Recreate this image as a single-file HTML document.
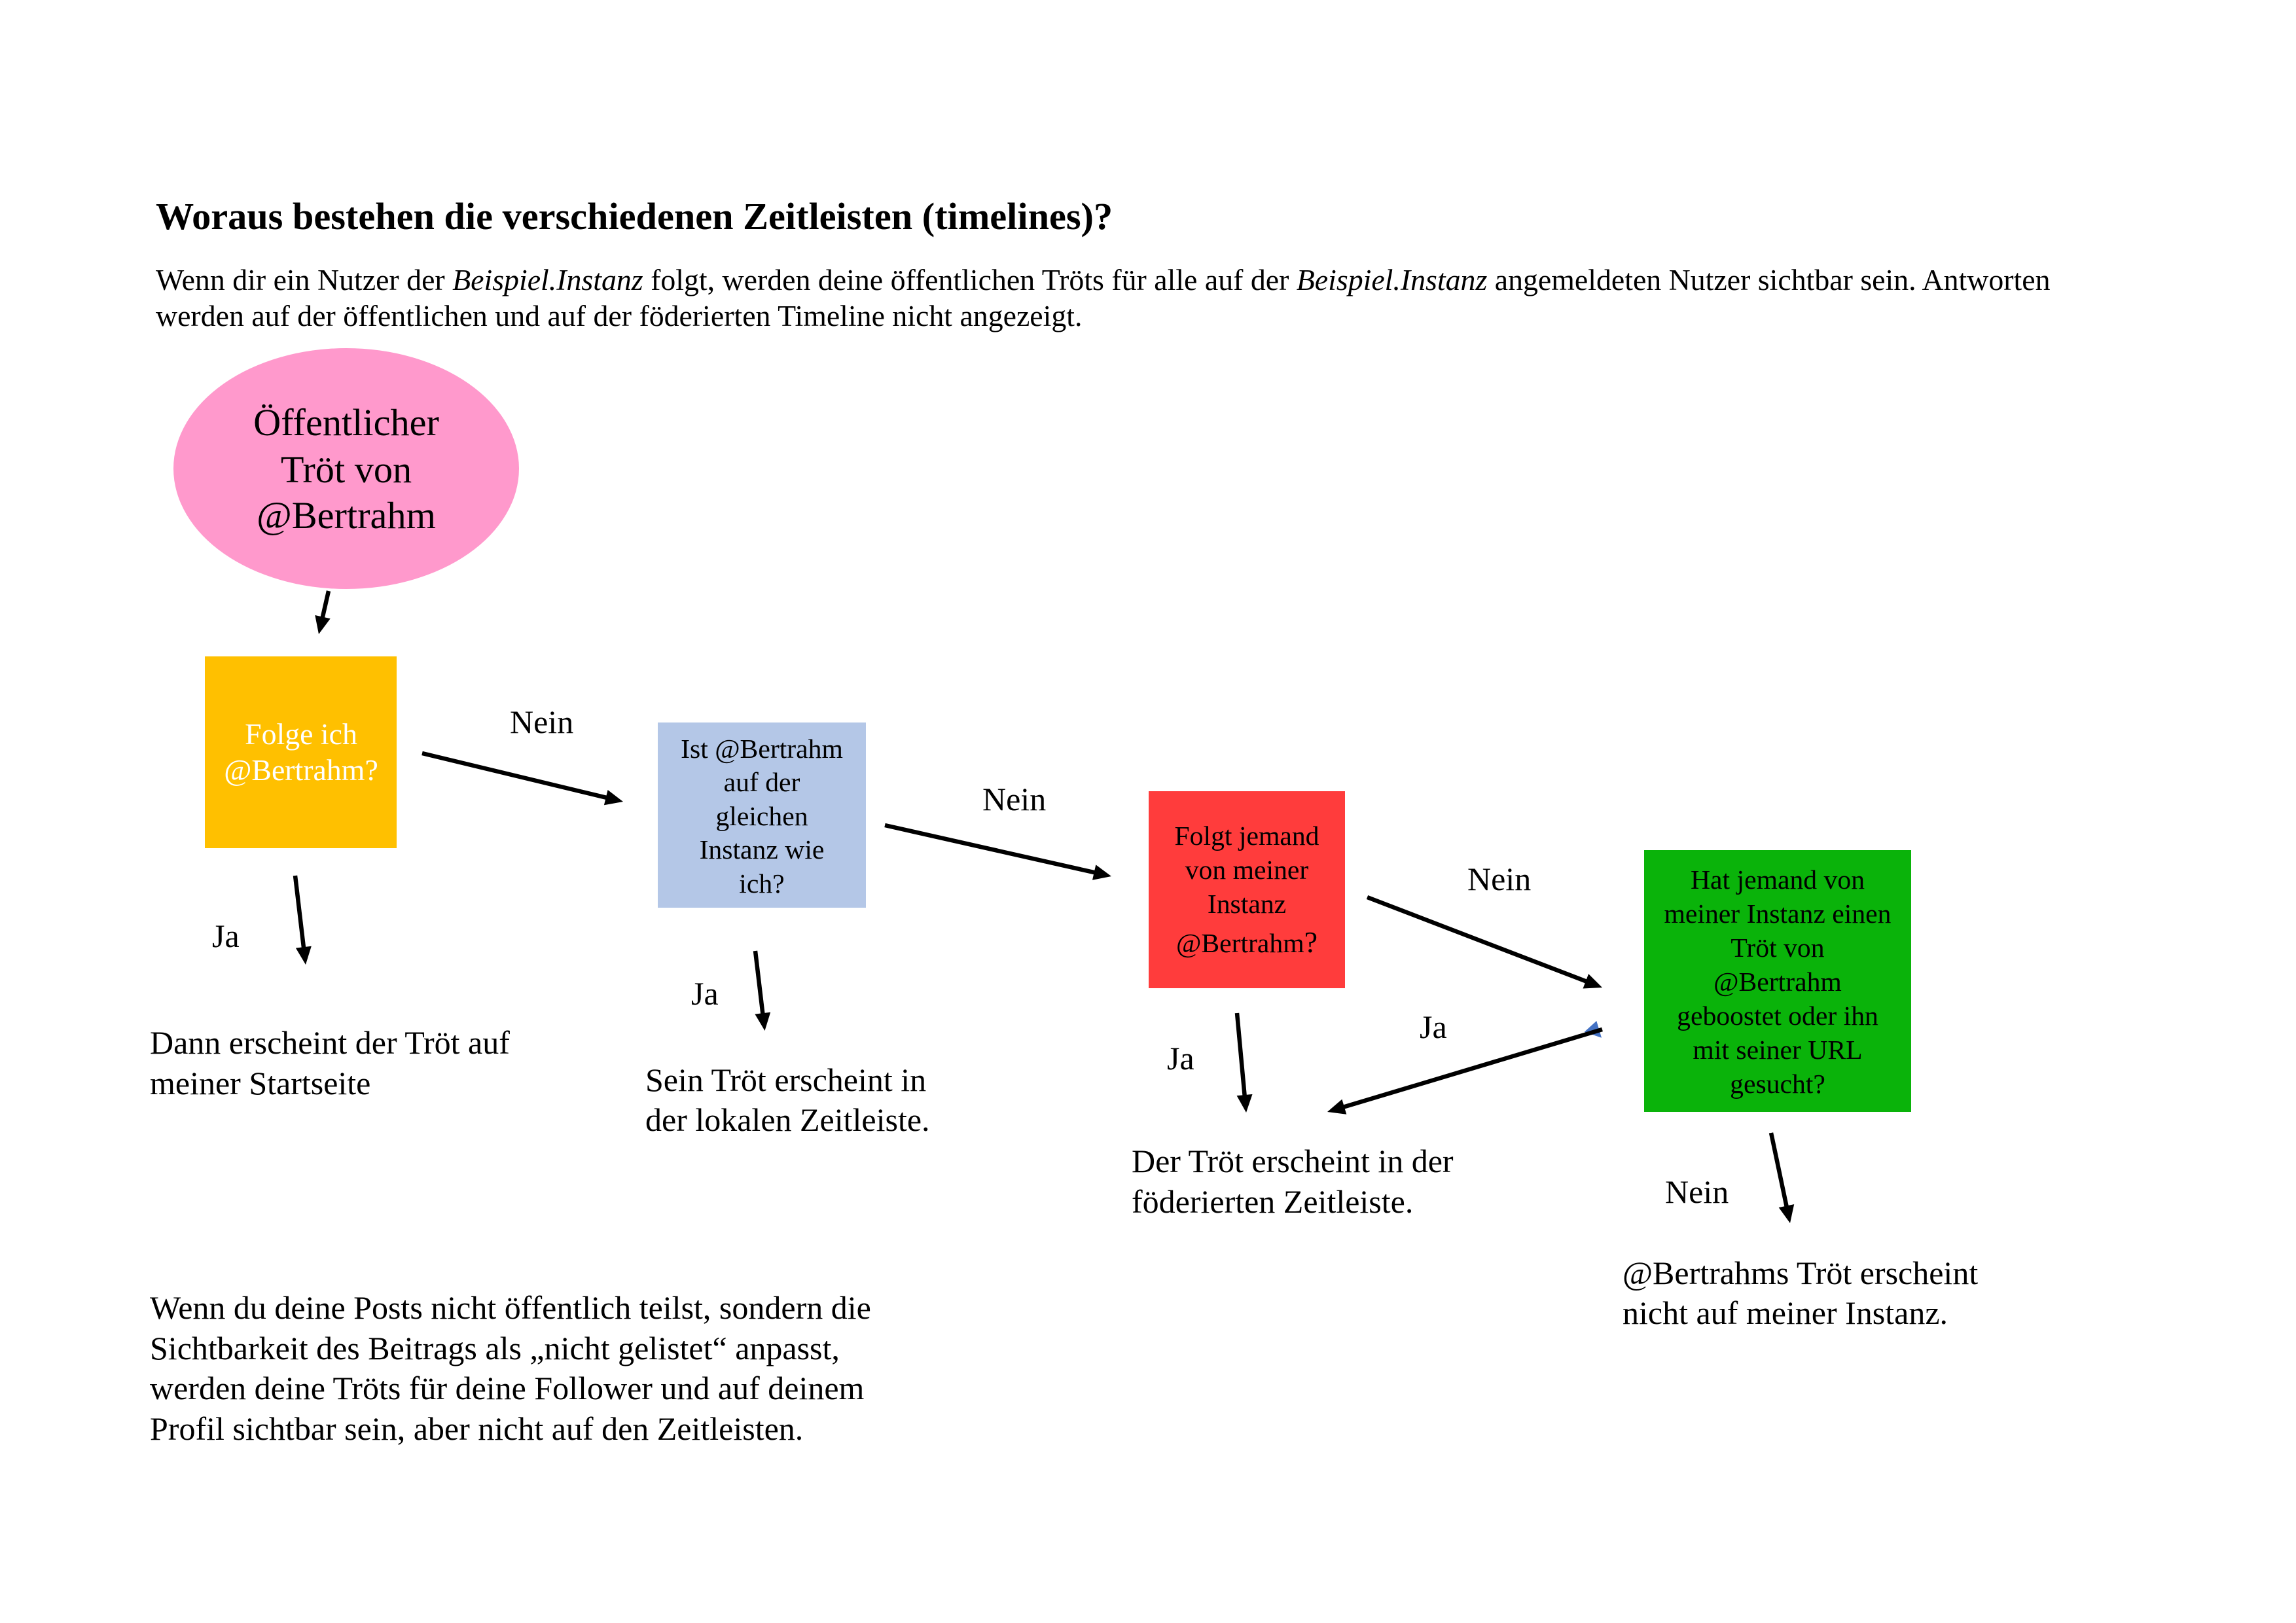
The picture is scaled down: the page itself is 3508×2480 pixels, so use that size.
<!DOCTYPE html>
<html>
<head>
<meta charset="utf-8">
<style>
html,body{margin:0;padding:0;background:#ffffff;}
body{width:3508px;height:2480px;overflow:hidden;}
svg{display:block;}
text{font-family:"Liberation Serif","DejaVu Serif",serif;fill:#000;}
</style>
</head>
<body>
<svg width="3508" height="2480" viewBox="0 0 3508 2480" xmlns="http://www.w3.org/2000/svg">
<rect x="0" y="0" width="3508" height="2480" fill="#ffffff"/>

<!-- Title -->
<text x="238" y="350" font-size="58.3" font-weight="bold">Woraus bestehen die verschiedenen Zeitleisten (timelines)?</text>

<!-- Intro paragraph -->
<text x="238" y="443" font-size="45.83">Wenn dir ein Nutzer der <tspan font-style="italic">Beispiel.Instanz</tspan> folgt, werden deine öffentlichen Tröts für alle auf der <tspan font-style="italic">Beispiel.Instanz</tspan> angemeldeten Nutzer sichtbar sein. Antworten</text>
<text x="238" y="498" font-size="45.83">werden auf der öffentlichen und auf der föderierten Timeline nicht angezeigt.</text>

<!-- Ellipse -->
<ellipse cx="529" cy="716" rx="264" ry="184" fill="#ff99cc"/>
<text x="529" y="665" font-size="58.3" text-anchor="middle">Öffentlicher</text>
<text x="529" y="737" font-size="58.3" text-anchor="middle">Tröt von</text>
<text x="529" y="807" font-size="58.3" text-anchor="middle">@Bertrahm</text>

<!-- Yellow box -->
<rect x="313" y="1003" width="293" height="293" fill="#ffc000"/>
<text x="460" y="1137" font-size="45.83" text-anchor="middle" style="fill:#ffffff">Folge ich</text>
<text x="460" y="1192" font-size="45.83" text-anchor="middle" style="fill:#ffffff">@Bertrahm?</text>

<!-- Blue box -->
<rect x="1005" y="1104" width="318" height="283" fill="#b4c7e7"/>
<text x="1164" y="1158" font-size="41.67" text-anchor="middle">Ist @Bertrahm</text>
<text x="1164" y="1209" font-size="41.67" text-anchor="middle">auf der</text>
<text x="1164" y="1261" font-size="41.67" text-anchor="middle">gleichen</text>
<text x="1164" y="1312" font-size="41.67" text-anchor="middle">Instanz wie</text>
<text x="1164" y="1364" font-size="41.67" text-anchor="middle">ich?</text>

<!-- Red box -->
<rect x="1755" y="1209" width="300" height="301" fill="#ff3c3c"/>
<text x="1905" y="1291" font-size="41.67" text-anchor="middle">Folgt jemand</text>
<text x="1905" y="1343" font-size="41.67" text-anchor="middle">von meiner</text>
<text x="1905" y="1395" font-size="41.67" text-anchor="middle">Instanz</text>
<text x="1905" y="1455" font-size="41.67" text-anchor="middle">@Bertrahm<tspan font-size="46">?</tspan></text>

<!-- Green box -->
<rect x="2512" y="1299" width="408" height="400" fill="#0ab30a"/>
<text x="2716" y="1358" font-size="41.67" text-anchor="middle">Hat jemand von</text>
<text x="2716" y="1410" font-size="41.67" text-anchor="middle">meiner Instanz einen</text>
<text x="2716" y="1462" font-size="41.67" text-anchor="middle">Tröt von</text>
<text x="2716" y="1514" font-size="41.67" text-anchor="middle">@Bertrahm</text>
<text x="2716" y="1566" font-size="41.67" text-anchor="middle">geboostet oder ihn</text>
<text x="2716" y="1618" font-size="41.67" text-anchor="middle">mit seiner URL</text>
<text x="2716" y="1670" font-size="41.67" text-anchor="middle">gesucht?</text>

<!-- Blue stray arrowhead near green box -->
<polygon points="2439.3,1560 2447,1585.7 2420.7,1576.7" fill="#4472c4"/>

<!-- Arrows -->
<g stroke="#000" stroke-width="6.5" fill="none">
  <line x1="502" y1="903" x2="491.4" y2="949.5"/>
  <line x1="451" y1="1338" x2="464.7" y2="1454.1"/>
  <line x1="645" y1="1151" x2="932.6" y2="1220.3"/>
  <line x1="1154" y1="1453" x2="1166.1" y2="1555.1"/>
  <line x1="1352" y1="1261" x2="1678.5" y2="1334.6"/>
  <line x1="2089" y1="1371" x2="2429.3" y2="1501.8"/>
  <line x1="1890" y1="1548" x2="1902.2" y2="1680.1"/>
  <line x1="2448" y1="1573" x2="2047.2" y2="1693.3"/>
  <line x1="2706" y1="1731" x2="2730.9" y2="1849.4"/>
</g>
<g fill="#000">
  <polygon points="487,969 481.3,940.0 504.7,945.3"/>
  <polygon points="467,1474 451.9,1448.6 475.8,1445.8"/>
  <polygon points="952,1225 922.9,1230.3 928.6,1207.0"/>
  <polygon points="1168.5,1575 1153.4,1549.6 1177.2,1546.8"/>
  <polygon points="1698,1339 1669.0,1344.8 1674.3,1321.4"/>
  <polygon points="2448,1509 2418.5,1510.5 2427.1,1488.1"/>
  <polygon points="1904,1700 1889.6,1674.2 1913.5,1672.0"/>
  <polygon points="2028,1699 2050.4,1679.7 2057.3,1702.7"/>
  <polygon points="2735,1869 2717.7,1845.1 2741.2,1840.1"/>
</g>

<!-- Connector labels -->
<text x="779" y="1120" font-size="50">Nein</text>
<text x="1501" y="1238" font-size="50">Nein</text>
<text x="2242" y="1360" font-size="50">Nein</text>
<text x="2544" y="1838" font-size="50">Nein</text>
<text x="324" y="1447" font-size="50">Ja</text>
<text x="1056" y="1535" font-size="50">Ja</text>
<text x="1783" y="1634" font-size="50">Ja</text>
<text x="2169" y="1586" font-size="50">Ja</text>

<!-- Result texts -->
<text x="229" y="1610" font-size="50">Dann erscheint der Tröt auf</text>
<text x="229" y="1672" font-size="50">meiner Startseite</text>

<text x="986" y="1667" font-size="50">Sein Tröt erscheint in</text>
<text x="986" y="1728" font-size="50">der lokalen Zeitleiste.</text>

<text x="1729" y="1791" font-size="50">Der Tröt erscheint in der</text>
<text x="1729" y="1853" font-size="50">föderierten Zeitleiste.</text>

<text x="2479" y="1962" font-size="50">@Bertrahms Tröt erscheint</text>
<text x="2479" y="2023" font-size="50">nicht auf meiner Instanz.</text>

<!-- Bottom paragraph -->
<text x="229" y="2015" font-size="50">Wenn du deine Posts nicht öffentlich teilst, sondern die</text>
<text x="229" y="2077" font-size="50">Sichtbarkeit des Beitrags als „nicht gelistet“ anpasst,</text>
<text x="229" y="2138" font-size="50">werden deine Tröts für deine Follower und auf deinem</text>
<text x="229" y="2200" font-size="50">Profil sichtbar sein, aber nicht auf den Zeitleisten.</text>
</svg>
</body>
</html>
